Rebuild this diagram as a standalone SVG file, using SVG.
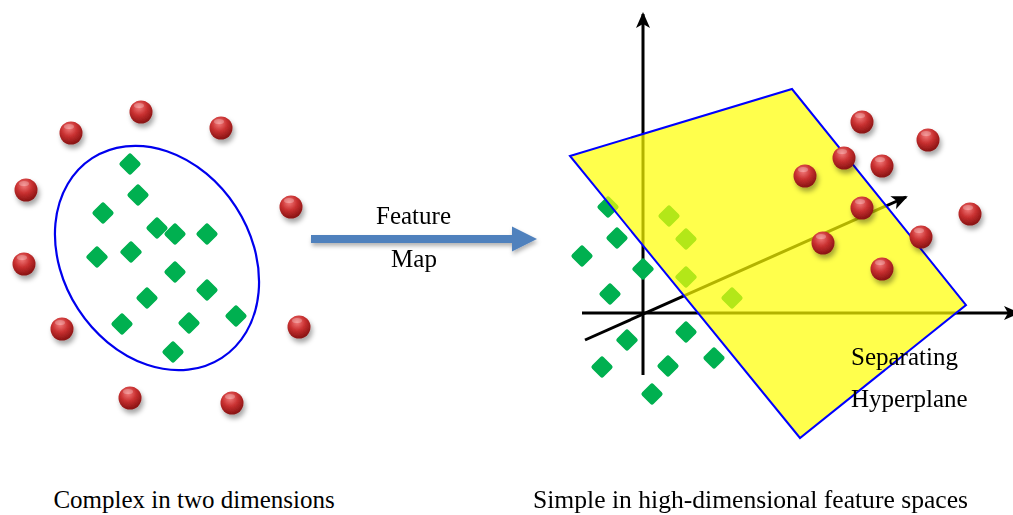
<svg xmlns="http://www.w3.org/2000/svg" xmlns:xlink="http://www.w3.org/1999/xlink" width="1013" height="515" viewBox="0 0 1013 515">
<style>
text{font-family:"Liberation Serif","Times New Roman",serif;font-size:25px;fill:#000}
.cap2{font-size:25.6px}
.axis{stroke:#000;stroke-width:3;fill:none}
.dg{fill:#00B050}
</style>
<defs>
<radialGradient id="ballG" cx="0.42" cy="0.3" r="0.75">
<stop offset="0" stop-color="#f27a7a"/>
<stop offset="0.45" stop-color="#c93131"/>
<stop offset="1" stop-color="#7e0e0e"/>
</radialGradient>
<filter id="shadow" x="-50%" y="-50%" width="220%" height="220%">
<feDropShadow dx="2" dy="4" stdDeviation="2.5" flood-color="#000" flood-opacity="0.35"/>
</filter>
<filter id="ashadow" x="-10%" y="-100%" width="120%" height="300%">
<feDropShadow dx="1" dy="3" stdDeviation="2" flood-color="#000" flood-opacity="0.3"/>
</filter>
<g id="ball"><circle r="11.5" fill="url(#ballG)"/><ellipse cx="-2" cy="-6.5" rx="5" ry="2.6" fill="#fff" opacity="0.25"/></g>
<rect id="dia" x="-8.2" y="-8.2" width="16.4" height="16.4" rx="2.5" transform="rotate(45)"/>
<marker id="ah" markerUnits="userSpaceOnUse" viewBox="0 0 16 14" refX="14" refY="7" markerWidth="16" markerHeight="14" orient="auto">
<path d="M0,0 L16,7 L0,14 L4,7 Z" fill="#000"/>
</marker>
</defs>
<rect width="1013" height="515" fill="#fff"/>

<g id="left-panel">
<ellipse cx="157" cy="258" rx="94" ry="119" transform="rotate(-33 157 258)" fill="none" stroke="#0000ee" stroke-width="2.2"/>
<g id="left-diamonds" class="dg">
<use href="#dia" x="130" y="164"/>
<use href="#dia" x="138" y="195"/>
<use href="#dia" x="103" y="213"/>
<use href="#dia" x="157" y="228"/>
<use href="#dia" x="175" y="234"/>
<use href="#dia" x="207" y="234"/>
<use href="#dia" x="97" y="257"/>
<use href="#dia" x="131" y="252"/>
<use href="#dia" x="175" y="272"/>
<use href="#dia" x="207" y="290"/>
<use href="#dia" x="147" y="298"/>
<use href="#dia" x="236" y="316"/>
<use href="#dia" x="122" y="324"/>
<use href="#dia" x="189" y="323"/>
<use href="#dia" x="173" y="352"/>
</g>
<g id="left-balls" filter="url(#shadow)">
<use href="#ball" x="141" y="112"/>
<use href="#ball" x="71" y="133"/>
<use href="#ball" x="221" y="128"/>
<use href="#ball" x="26" y="190"/>
<use href="#ball" x="291" y="207"/>
<use href="#ball" x="24" y="264"/>
<use href="#ball" x="62" y="329"/>
<use href="#ball" x="299" y="327"/>
<use href="#ball" x="130" y="398"/>
<use href="#ball" x="232" y="403"/>
</g>
<text x="194" y="508" text-anchor="middle">Complex in two dimensions</text>
</g>

<g id="connectors">
<g id="feature-map-arrow" filter="url(#ashadow)" fill="#4F81BD">
<rect x="311" y="235" width="204" height="8"/>
<polygon points="512,226.5 537,239 512,251.5"/>
</g>
</g>
<g id="feature-map-label">
<text x="413.5" y="224" text-anchor="middle">Feature</text>
<text x="414" y="267" text-anchor="middle">Map</text>
</g>

<g id="right-panel">
<g id="axes">
<line class="axis" x1="643" y1="375" x2="643" y2="14" marker-end="url(#ah)"/>
<line class="axis" x1="582" y1="313" x2="1018" y2="313" marker-end="url(#ah)"/>
<line class="axis" x1="585" y1="340" x2="906" y2="197" marker-end="url(#ah)"/>
</g>
<g id="right-diamonds" class="dg">
<use href="#dia" x="608" y="207"/>
<use href="#dia" x="617" y="238"/>
<use href="#dia" x="582" y="256"/>
<use href="#dia" x="643" y="269"/>
<use href="#dia" x="610" y="294"/>
<use href="#dia" x="627" y="340"/>
<use href="#dia" x="686" y="332"/>
<use href="#dia" x="602" y="367"/>
<use href="#dia" x="668" y="366"/>
<use href="#dia" x="714" y="358"/>
<use href="#dia" x="652" y="394"/>
<use href="#dia" x="669" y="216"/>
<use href="#dia" x="686" y="239"/>
<use href="#dia" x="686" y="277"/>
<use href="#dia" x="732" y="298"/>
</g>
<polygon id="hyperplane" points="570,156 792,89 966,305 800,438" fill="#ffff00" fill-opacity="0.7" stroke="#0000ff" stroke-width="2"/>
<g id="right-balls" filter="url(#shadow)">
<use href="#ball" x="862" y="122"/>
<use href="#ball" x="928" y="140"/>
<use href="#ball" x="844" y="158"/>
<use href="#ball" x="882" y="166"/>
<use href="#ball" x="805" y="176"/>
<use href="#ball" x="862" y="208"/>
<use href="#ball" x="970" y="214"/>
<use href="#ball" x="823" y="243"/>
<use href="#ball" x="921" y="237"/>
<use href="#ball" x="882" y="269"/>
</g>
<text x="851" y="365">Separating</text>
<text x="851" y="407">Hyperplane</text>
<text class="cap2" x="750.5" y="508" text-anchor="middle">Simple in high-dimensional feature spaces</text>
</g>
</svg>
